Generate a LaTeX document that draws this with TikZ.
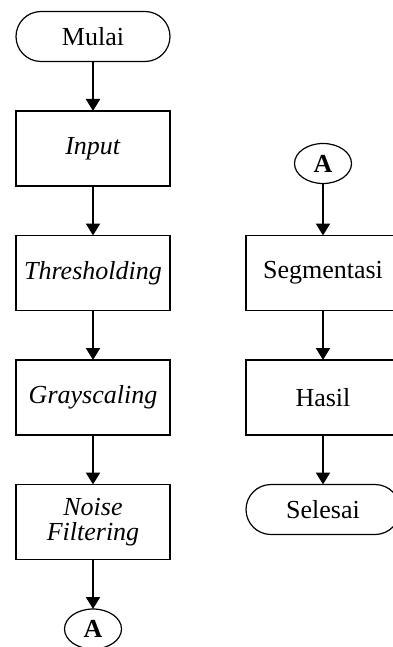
\documentclass[tikz,border=0pt]{standalone}
\usepackage{fontspec}
\setmainfont{Liberation Serif}
\usetikzlibrary{arrows.meta,positioning,shapes.geometric}

\begin{document}
\begin{tikzpicture}
    [node distance=24.75pt,
    every node/.style={draw,line width=0.6pt,outer sep=0pt,align=center,font=\fontsize{13}{12.5}\selectfont},
    terminal/.style={rectangle,rounded corners=12.5pt,minimum width=77pt,minimum height=25pt},
    process/.style={rectangle,minimum width=77pt,minimum height=37.5pt},
    connector/.style={ellipse,minimum width=28.5pt,minimum height=20pt,inner sep=0pt,font=\fontsize{13}{12.5}\selectfont\bfseries},
    flow/.style={draw,line width=1pt,-{Triangle[width=7pt,length=6pt]}}]
  \useasboundingbox (0,0) rectangle (196pt,-323.5pt);
  % left column
  \node [terminal] (mulai) at (46.5pt,-18.25pt) {Mulai};
  \node [process, below=of mulai] (input) {\textit{Input}};
  \node [process, below=of input] (thres) {\textit{Thresholding}};
  \node [process, below=of thres] (gray) {\textit{Grayscaling}};
  \node [process, below=of gray] (noise) {\textit{Noise}\\\textit{Filtering}};
  \node [connector, below=of noise] (A1) {A};
  % right column
  \node [process, right=38pt of thres] (segmen) {Segmentasi};
  \node [connector, above=26pt of segmen] (A2) {A};
  \node [process, below=of segmen] (hasil) {Hasil};
  \node [terminal, below=of hasil] (selesai) {Selesai};
  \path [flow] (mulai) -- (input);
  \path [flow] (input) -- (thres);
  \path [flow] (thres) -- (gray);
  \path [flow] (gray) -- (noise);
  \path [flow] (noise) -- (A1);
  \path [flow] (A2) -- (segmen);
  \path [flow] (segmen) -- (hasil);
  \path [flow] (hasil) -- (selesai);
\end{tikzpicture}
\end{document}
